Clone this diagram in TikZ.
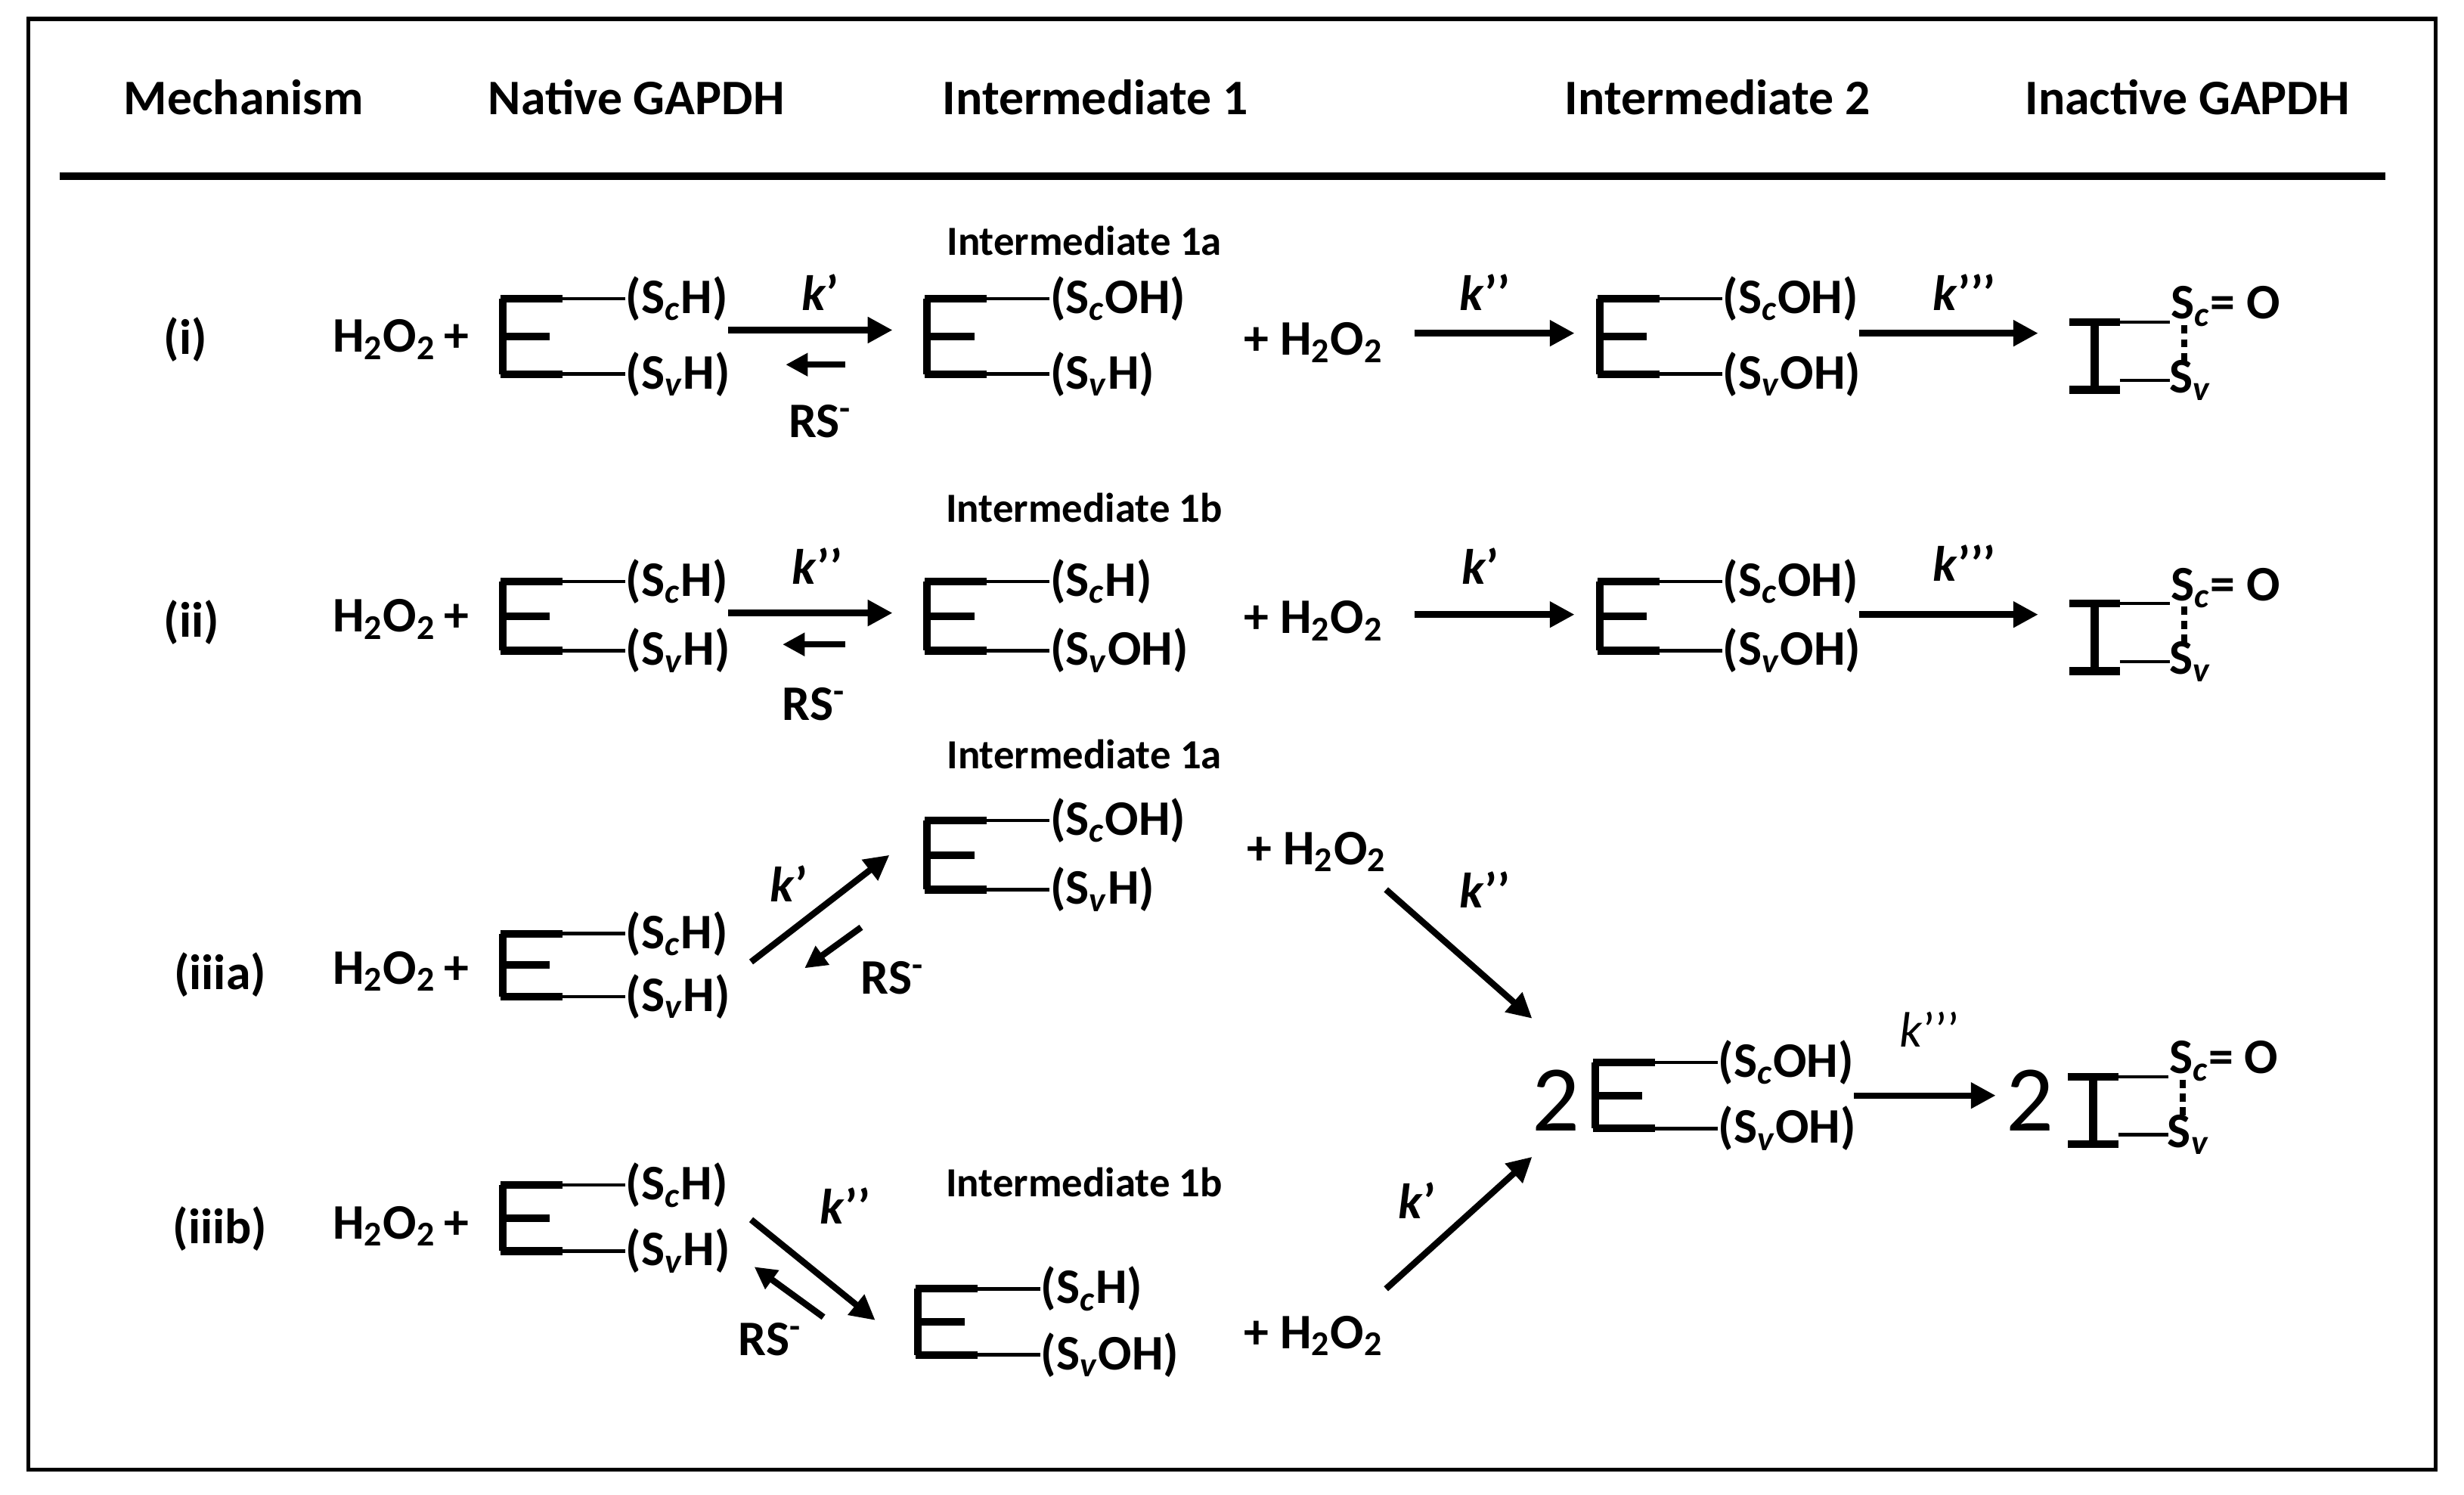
\documentclass[tikz,border=0pt]{standalone}
\usepackage{fontspec}
\setmainfont{Carlito}
\usetikzlibrary{arrows.meta}
\newcommand{\sbs}[1]{\textsubscript{#1}}
\newcommand{\HOO}{H\sbs{2}O\sbs{2}}
\newcommand{\kk}[1]{\textbf{\textit{k}#1}}
% E enzyme: name, x, ytop, ybottom, top label, bottom label
\newcommand{\enz}[6]{%
  \draw[estroke] (#2,#3) -- (#2,#4);
  \draw[estroke] (#2-1.5,#3) -- (#2+38,#3);
  \draw[estroke] (#2-1.5,#4) -- (#2+38,#4);
  \draw[estroke] (#2,{(#3+#4)/2}) -- (#2+30,{(#3+#4)/2});
  \node[lab] (#1t) at (#2+78,#3) {#5};
  \node[lab] (#1b) at (#2+78,#4) {#6};
  \draw[thinl] (#2+38,#3) -- (#1t.west);
  \draw[thinl] (#2+38,#4) -- (#1b.west);
}
% inactive: name, x, ytop, ybottom
\newcommand{\inact}[4]{%
  \draw[estroke] (#2+16,#3) -- (#2+16,#4);
  \draw[estroke] (#2,#3) -- (#2+32,#3);
  \draw[estroke] (#2,#4) -- (#2+32,#4);
  \node[lab] (#1t) at (#2+64,#3-10) {S\sbs{\textit{c}}= O};
  \node[lab,anchor=west] (#1b) at (#2+63,#4-6) {S\sbs{\textit{v}}};
  \draw[thinl] (#2+32,#3) -- (#2+64,#3);
  \draw[thinl] (#2+32,#4-6) -- (#2+64,#4-6);
  \draw[line width=2.2pt,dash pattern=on 3pt off 2pt] (#2+73,#3+2) -- (#2+73,#4-16);
}
\begin{document}
\begin{tikzpicture}[x=0.02cm,y=-0.02cm,
  estroke/.style={line width=2.8pt},
  thinl/.style={line width=1.2pt},
  lab/.style={anchor=west,inner sep=0pt,font=\fontsize{18}{20}\selectfont\bfseries},
  txt/.style={inner sep=0pt,font=\fontsize{18}{20}\selectfont\bfseries},
  hd/.style={inner sep=0pt,font=\fontsize{18}{20}\selectfont\bfseries},
  sm/.style={inner sep=0pt,font=\fontsize{15}{17}\selectfont\bfseries},
  big/.style={inner sep=0pt,font=\fontsize{34}{36}\selectfont},
  arr/.style={line width=2.3pt,-{Triangle[length=9pt,width=9pt]}},
  barr/.style={line width=2.3pt,-{Triangle[length=8pt,width=8pt]}}]
\useasboundingbox (0,0) rectangle (1568,951);
\draw[line width=1.4pt] (18,12) rectangle (1550,935);
\draw[line width=2.6pt] (38,112) -- (1518,112);
\node[hd] (h1) at (155,62) {Mechanism};
\node[hd] (h2) at (405,62) {Native GAPDH};
\node[hd] (h3) at (697,62) {Intermediate 1};
\node[hd] (h4) at (1093,62) {Intermediate 2};
\node[hd] (h5) at (1392,62) {Inactive GAPDH};

% Row (i)
\node[txt] (m1) at (118,216) {(i)};
\node[txt] (p1) at (255,216) {\HOO\,+};
\enz{a1}{320}{190}{238}{(S\sbs{\textit{c}}H)}{(S\sbs{\textit{v}}H)}
\coordinate (a1f) at (568,210); \coordinate (a1r1) at (538,232); \coordinate (a1r2) at (500,232);
\draw[arr] (a1t.east |- a1f) -- (a1f);
\draw[barr] (a1r1) -- (a1r2);
\node[txt] (k1) at (522,186) {\kk{’}};
\node[txt] (rs1) at (522,268) {RS\textsuperscript{-}};
\node[sm] (i1a) at (690,153) {Intermediate 1a};
\enz{b1}{590}{190}{238}{(S\sbs{\textit{c}}OH)}{(S\sbs{\textit{v}}H)}
\node[txt] (q1) at (836,218) {+ \HOO};
\coordinate (c1s) at (900,212); \coordinate (c1e) at (1002,212);
\draw[arr] (c1s) -- (c1e);
\node[txt] (k1b) at (945,186) {\kk{’’}};
\enz{d1}{1018}{190}{238}{(S\sbs{\textit{c}}OH)}{(S\sbs{\textit{v}}OH)}
\coordinate (e1e) at (1297,212);
\draw[arr] (d1t.east |- e1e) -- (e1e);
\node[txt] (k1c) at (1250,186) {\kk{’’’}};
\inact{f1}{1317}{205}{248}

% Row (ii)
\node[txt] (m2) at (122,396) {(ii)};
\node[txt] (p2) at (255,394) {\HOO\,+};
\enz{a2}{320}{370}{414}{(S\sbs{\textit{c}}H)}{(S\sbs{\textit{v}}H)}
\coordinate (a2f) at (568,390); \coordinate (a2r1) at (538,410); \coordinate (a2r2) at (498,410);
\draw[arr] (a2t.east |- a2f) -- (a2f);
\draw[barr] (a2r1) -- (a2r2);
\node[txt] (k2) at (520,360) {\kk{’’}};
\node[txt] (rs2) at (518,448) {RS\textsuperscript{-}};
\node[sm] (i1b) at (690,323) {Intermediate 1b};
\enz{b2}{590}{370}{414}{(S\sbs{\textit{c}}H)}{(S\sbs{\textit{v}}OH)}
\node[txt] (q2) at (836,395) {+ \HOO};
\coordinate (c2s) at (900,391); \coordinate (c2e) at (1002,391);
\draw[arr] (c2s) -- (c2e);
\node[txt] (k2b) at (942,360) {\kk{’}};
\enz{d2}{1018}{370}{414}{(S\sbs{\textit{c}}OH)}{(S\sbs{\textit{v}}OH)}
\coordinate (e2e) at (1297,391);
\draw[arr] (d2t.east |- e2e) -- (e2e);
\node[txt] (k2c) at (1250,358) {\kk{’’’}};
\inact{f2}{1317}{384}{427}

% Row (iiia)
\node[txt] (m3) at (140,620) {(iiia)};
\node[txt] (p3) at (255,618) {\HOO\,+};
\enz{a3}{320}{594}{634}{(S\sbs{\textit{c}}H)}{(S\sbs{\textit{v}}H)}
\coordinate (a3s) at (478,612); \coordinate (a3e) at (566,544);
\draw[arr] (a3s) -- (a3e);
\coordinate (a3r1) at (548,590); \coordinate (a3r2) at (512,616);
\draw[barr] (a3r1) -- (a3r2);
\node[txt] (k3) at (502,562) {\kk{’}};
\node[txt] (rs3) at (568,622) {RS\textsuperscript{-}};
\node[sm] (i1a2) at (690,480) {Intermediate 1a};
\enz{b3}{590}{522}{566}{(S\sbs{\textit{c}}OH)}{(S\sbs{\textit{v}}H)}
\node[txt] (q3) at (838,542) {+ \HOO};
\coordinate (c3s) at (882,566); \coordinate (c3e) at (975,648);
\draw[arr] (c3s) -- (c3e);
\node[txt] (k3b) at (945,566) {\kk{’’}};

% Row (iiib)
\node[txt] (m4) at (140,782) {(iiib)};
\node[txt] (p4) at (255,780) {\HOO\,+};
\enz{a4}{320}{754}{796}{(S\sbs{\textit{c}}H)}{(S\sbs{\textit{v}}H)}
\coordinate (a4s) at (478,776); \coordinate (a4e) at (557,840);
\draw[arr] (a4s) -- (a4e);
\coordinate (a4r1) at (524,838); \coordinate (a4r2) at (480,806);
\draw[barr] (a4r1) -- (a4r2);
\node[txt] (k4) at (538,767) {\kk{’’}};
\node[txt] (rs4) at (490,852) {RS\textsuperscript{-}};
\node[sm] (i1b2) at (690,752) {Intermediate 1b};
\enz{b4}{584}{820}{862}{(S\sbs{\textit{c}}H)}{(S\sbs{\textit{v}}OH)}
\node[txt] (q4) at (836,850) {+ \HOO};
\coordinate (c4s) at (882,820); \coordinate (c4e) at (975,736);
\draw[arr] (c4s) -- (c4e);
\node[txt] (k4b) at (902,764) {\kk{’}};

% Product
\node[big] (two1) at (990,700) {2};
\enz{d3}{1015}{676}{718}{(S\sbs{\textit{c}}OH)}{(S\sbs{\textit{v}}OH)}
\coordinate (e3e) at (1270,697);
\draw[arr] (d3t.east |- e3e) -- (e3e);
\node[inner sep=0pt,font=\fontsize{18}{20}\selectfont] (k3c) at (1228,655) {\textit{k}’’’};
\node[big] (two2) at (1292,700) {2};
\inact{f3}{1316}{685}{728}
\end{tikzpicture}
\end{document}
